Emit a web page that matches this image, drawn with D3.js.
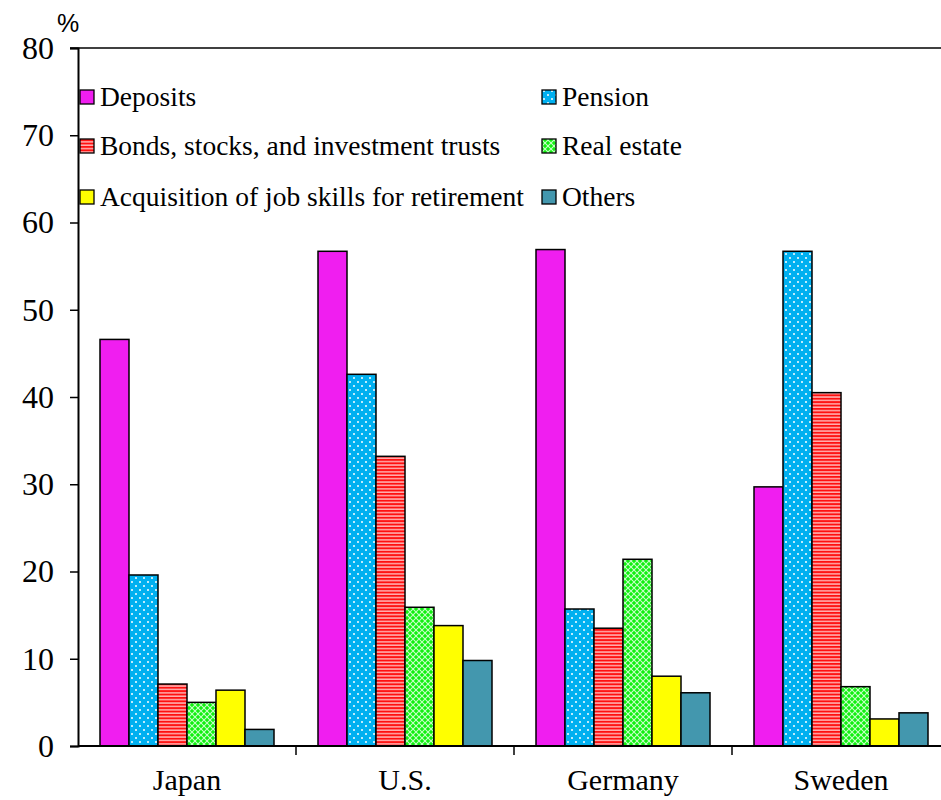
<!DOCTYPE html>
<html>
<head>
<style>
  body { margin: 0; background: #fff; }
</style>
</head>
<body>
<script src="https://d3js.org/d3.v7.min.js"></script>
<script>
const countries = ["Japan", "U.S.", "Germany", "Sweden"]
const series = ["Deposits", "Pension", "Bonds, stocks, and investment trusts", "Real estate",
                "Acquisition of job skills for retirement", "Others"]
const deposits    = [46.6, 56.7, 56.9, 29.7]
const pension     = [19.6, 42.6, 15.7, 56.7]
const bonds       = [7.1, 33.2, 13.5, 40.5]
const realEstate  = [5.0, 15.9, 21.4, 6.8]
const jobSkills   = [6.4, 13.8, 8.0, 3.1]
const others      = [1.9, 9.8, 6.1, 3.8]
const yTicks = [0, 10, 20, 30, 40, 50, 60, 70, 80]

const values = [deposits, pension, bonds, realEstate, jobSkills, others]
const fills = ["#f01ef0", "url(#dots)", "url(#stripes)", "url(#lattice)", "#ffff00", "#4397ae"]
const serif = "'Liberation Serif'"

const w = 941, h = 800
const padLeft = 78, padTop = 48, baseY = 746

const svg = d3.select("body").append("svg").attr("width", w).attr("height", h)

// patterns
const defs = svg.append("defs")
const dots = defs.append("pattern").attr("id", "dots").attr("patternUnits", "userSpaceOnUse")
  .attr("width", 8).attr("height", 8)
dots.append("rect").attr("width", 8).attr("height", 8).attr("fill", "#00b0f0")
dots.append("circle").attr("cx", 2).attr("cy", 2).attr("r", 1).attr("fill", "#fff")
dots.append("circle").attr("cx", 6).attr("cy", 6).attr("r", 1).attr("fill", "#fff")

const stripes = defs.append("pattern").attr("id", "stripes").attr("patternUnits", "userSpaceOnUse")
  .attr("width", 4).attr("height", 3.4)
stripes.append("rect").attr("width", 4).attr("height", 3.4).attr("fill", "#ff1010")
stripes.append("rect").attr("y", 1.9).attr("width", 4).attr("height", 1.5).attr("fill", "#ffb0b0")

const lattice = defs.append("pattern").attr("id", "lattice").attr("patternUnits", "userSpaceOnUse")
  .attr("width", 6).attr("height", 6)
lattice.append("rect").attr("width", 6).attr("height", 6).attr("fill", "#10f010")
lattice.append("path").attr("d", "M0,0L6,6M6,0L0,6").attr("stroke", "#c8ffc8").attr("stroke-width", 1.1)

// scales
const x0 = d3.scaleBand().domain(countries).range([padLeft, 950])
const x1 = d3.scaleBand().domain(d3.range(series.length)).range([22, x0.bandwidth() - 22])
const y = d3.scaleLinear().domain([0, 80]).range([baseY, padTop])

// y axis
const yAxis = d3.axisLeft(y).tickValues(yTicks).tickSize(8).tickPadding(16)
const gy = svg.append("g").attr("transform", "translate(" + padLeft + ",0)").call(yAxis)
gy.select(".domain").attr("stroke-width", 2)
gy.selectAll(".tick line").attr("stroke-width", 1.5)
gy.selectAll(".tick text").attr("fill", "#000")
  .style("font-family", serif).style("font-size", "32px")

svg.append("line").attr("x1", padLeft - 8).attr("x2", w).attr("y1", y(80)).attr("y2", y(80))
  .attr("stroke", "#000").attr("stroke-width", 1.5)

svg.append("text").attr("x", 57).attr("y", 32).text("%")
  .style("font-size", "25px").style("font-family", "'Liberation Sans'")

// bars
const groups = svg.selectAll(".grp").data(countries).enter().append("g")
  .attr("transform", d => "translate(" + x0(d) + ",0)")
groups.selectAll("rect").data((c, ci) => values.map((v, si) => ({ si: si, v: v[ci] })))
  .enter().append("rect")
  .attr("x", d => x1(d.si))
  .attr("width", x1.bandwidth())
  .attr("y", d => y(d.v))
  .attr("height", d => baseY - y(d.v))
  .attr("fill", d => fills[d.si])
  .attr("stroke", "#000").attr("stroke-width", 1.5)

// x axis
const xAxis = d3.axisBottom(x0).tickSize(0)
const gx = svg.append("g").attr("transform", "translate(0," + baseY + ")").call(xAxis)
gx.select(".domain").attr("stroke-width", 2).attr("d", "M" + padLeft + ",0H" + w)
gx.selectAll(".tick text").attr("fill", "#000").attr("y", 44).attr("dy", null)
  .style("font-family", serif).style("font-size", "30px")
svg.selectAll(".sep").data(countries.slice(1)).enter().append("line")
  .attr("x1", d => x0(d)).attr("x2", d => x0(d))
  .attr("y1", baseY).attr("y2", baseY + 9)
  .attr("stroke", "#000").attr("stroke-width", 1.5)

// legend
const legX = [80, 542], legY = [97, 146, 197]
const leg = svg.selectAll(".leg").data(series).enter().append("g")
  .attr("transform", (d, i) => "translate(" + legX[i % 2] + "," + legY[Math.floor(i / 2)] + ")")
leg.append("rect").attr("x", 0).attr("y", -7).attr("width", 14).attr("height", 14)
  .attr("fill", (d, i) => fills[i]).attr("stroke", "#000").attr("stroke-width", 1.3)
leg.append("text").attr("x", 20).attr("y", 9).text(d => d)
  .style("font-family", serif).style("font-size", "27.5px")
</script>
</body>
</html>
